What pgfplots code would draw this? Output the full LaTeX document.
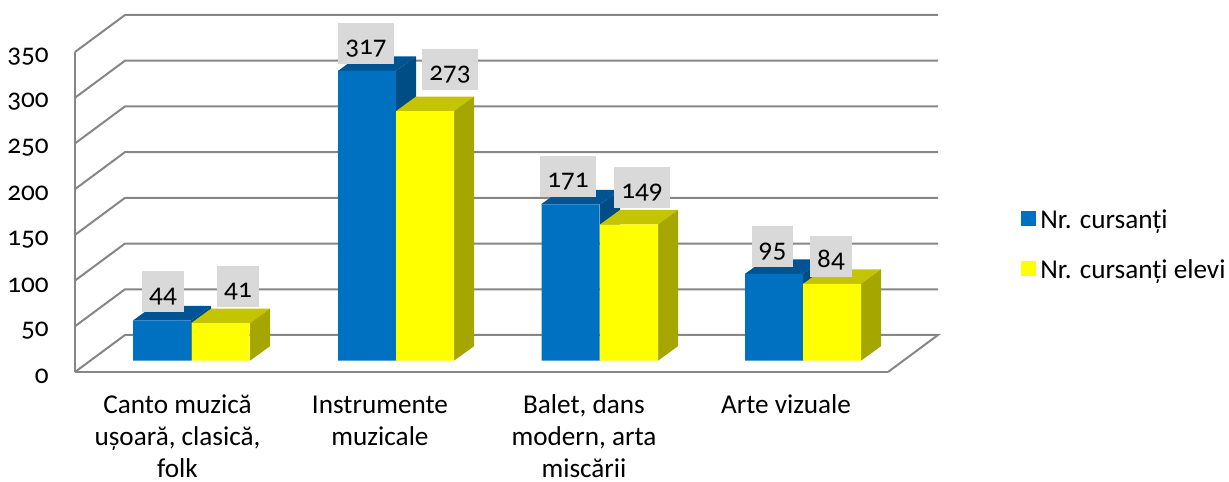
\documentclass[border=0pt]{standalone}
\usepackage{fontspec}
\setmainfont[Numbers=OldStyle]{Carlito}
\usepackage{pgfplots}
\pgfplotsset{compat=1.18}
\definecolor{WallGray}{RGB}{134,134,134}
\definecolor{BarBlue}{RGB}{0,112,192}
\definecolor{BlueTop}{RGB}{0,84,148}
\definecolor{BlueSide}{RGB}{0,76,132}
\definecolor{BarYellow}{RGB}{255,255,0}
\definecolor{YellowTop}{RGB}{196,196,0}
\definecolor{YellowSide}{RGB}{166,166,0}
\definecolor{BoxGray}{RGB}{217,217,217}
\newcommand{\chartfont}{\fontsize{13.6}{16}\selectfont}
% 1 px of the reference = 0.5pt; x is in px, y in data units
\pgfplotstableread{
x      y    lx    ly
162    44   0.5   14.25
367    317  -0.5  13.75
570.5  171  -1.25 13.75
774    95   -0.75 13.75
}\blue
\pgfplotstableread{
x      y    lx    ly
220.5  41   8.75  18.25
425    273  12.5  20.75
629    149  6.5   18.25
832    84   -0.5  13.75
}\yellow
\pgfplotsset{
  face/.style={draw=none,forget plot,yshift=5.65pt},
  front/.style={
    ybar,bar width=29pt,bar shift=0pt,draw=none,yshift=5.65pt,
    visualization depends on={\thisrow{lx} \as \lx},
    visualization depends on={\thisrow{ly} \as \ly},
    nodes near coords,
    nodes near coords align={anchor=center},
    every node near coord/.append style={
      fill=BoxGray,text=black,font=\chartfont,
      inner xsep=3.5pt,inner ysep=0pt,minimum height=20.5pt,
      text height=11pt,text depth=0pt,
      xshift=\lx pt,yshift=\ly pt},
  },
  wall/.style={draw=WallGray,line width=1pt,forget plot},
}
\begin{document}
\begin{tikzpicture}
\path[use as bounding box] (-37.5pt,-54.5pt) rectangle (577pt,186pt);
\begin{axis}[
    scale only axis,
    width=406.5pt,height=160pt,
    xmin=75,xmax=888,ymin=0,ymax=350,
    clip=false,
    axis lines=left,
    axis line style={-,draw=WallGray,line width=1pt},
    tick style={draw=none},
    ytick={0,50,100,150,200,250,300,350},
    xtick={177.5,380,584,786},
    xticklabels={{\strut Canto muzică\\ușoară, clasică,\\folk},{\strut Instrumente\\muzicale},{\strut Balet, dans\\modern, arta\\miscării},{\strut Arte vizuale}},
    /pgf/number format/assume math mode=true,
    y tick label style={font=\chartfont,xshift=-7.5pt,yshift=-2.2pt},
    x tick label style={font=\chartfont,align=center,anchor=north,inner ysep=0pt,yshift=-7pt},
    legend style={at={(axis cs:1021,181.7)},anchor=north west,draw=none,fill=none,
      font=\chartfont,row sep=10pt,inner sep=0pt,
      /tikz/every even column/.style={column sep=4.5pt}},
    legend cell align=left,
    legend image code/.code={\fill[#1] (0pt,-8.25pt) rectangle (7.5pt,-0.75pt);},
]
% walls and floor
\addplot[wall] coordinates {(75,0)(125,40.5)(938,40.5)(888,0)};
\addplot[wall] coordinates {(75,50)(125,90.5)(938,90.5)};
\addplot[wall] coordinates {(75,100)(125,140.5)(938,140.5)};
\addplot[wall] coordinates {(75,150)(125,190.5)(938,190.5)};
\addplot[wall] coordinates {(75,200)(125,240.5)(938,240.5)};
\addplot[wall] coordinates {(75,250)(125,290.5)(938,290.5)};
\addplot[wall] coordinates {(75,300)(125,340.5)(938,340.5)};
\addplot[wall] coordinates {(75,350)(125,390.5)(938,390.5)};
% blue tops and sides
\addplot[face,fill=BlueTop] coordinates {(133,44)(153,59.9)(211,59.9)(191,44)};
\addplot[face,fill=BlueSide] coordinates {(191,0)(211,15.9)(211,59.9)(191,44)};
\addplot[face,fill=BlueTop] coordinates {(338,317)(358,332.9)(416,332.9)(396,317)};
\addplot[face,fill=BlueSide] coordinates {(396,0)(416,15.9)(416,332.9)(396,317)};
\addplot[face,fill=BlueTop] coordinates {(541,171)(561,186.9)(620,186.9)(600,171)};
\addplot[face,fill=BlueSide] coordinates {(600,0)(620,15.9)(620,186.9)(600,171)};
\addplot[face,fill=BlueTop] coordinates {(745,95)(765,110.9)(823,110.9)(803,95)};
\addplot[face,fill=BlueSide] coordinates {(803,0)(823,15.9)(823,110.9)(803,95)};
\addplot[front,fill=BarBlue] table[x=x,y=y] {\blue};
\addlegendentry{Nr. cursanți}
% yellow tops and sides
\addplot[face,fill=YellowTop] coordinates {(191,41)(211,56.9)(270,56.9)(250,41)};
\addplot[face,fill=YellowSide] coordinates {(250,0)(270,15.9)(270,56.9)(250,41)};
\addplot[face,fill=YellowTop] coordinates {(396,273)(416,288.9)(474,288.9)(454,273)};
\addplot[face,fill=YellowSide] coordinates {(454,0)(474,15.9)(474,288.9)(454,273)};
\addplot[face,fill=YellowTop] coordinates {(600,149)(620,164.9)(678,164.9)(658,149)};
\addplot[face,fill=YellowSide] coordinates {(658,0)(678,15.9)(678,164.9)(658,149)};
\addplot[face,fill=YellowTop] coordinates {(803,84)(823,99.9)(881,99.9)(861,84)};
\addplot[face,fill=YellowSide] coordinates {(861,0)(881,15.9)(881,99.9)(861,84)};
\addplot[front,fill=BarYellow] table[x=x,y=y] {\yellow};
\addlegendentry{Nr. cursanți elevi}
\end{axis}
\end{tikzpicture}
\end{document}
